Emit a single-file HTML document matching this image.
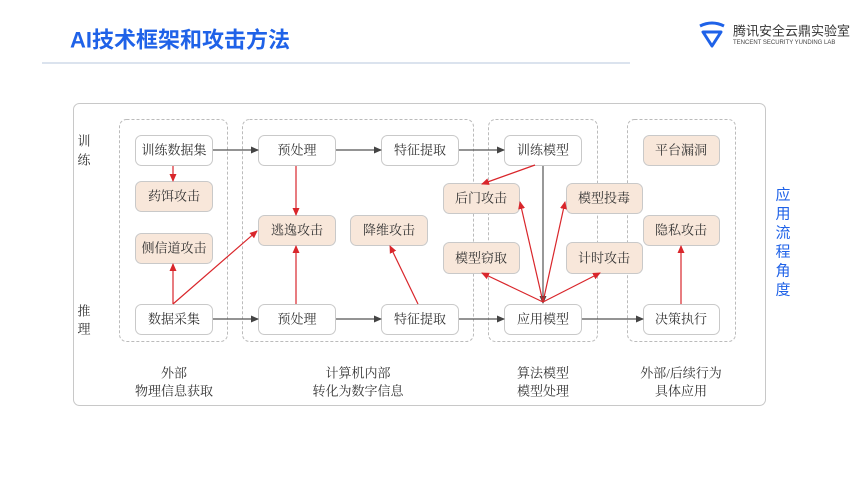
<!DOCTYPE html>
<html><head><meta charset="utf-8"><style>
html,body{margin:0;padding:0;background:#fff;}
svg{display:block;}
.t{font-family:"Liberation Serif","Noto Serif CJK SC",serif;font-size:13px;fill:#333;text-anchor:middle;dominant-baseline:central;}
</style></head><body>
<svg width="865" height="486" viewBox="0 0 865 486" xmlns="http://www.w3.org/2000/svg">
<defs>
<marker id="k" markerWidth="8" markerHeight="8" refX="7" refY="4" orient="auto" markerUnits="userSpaceOnUse"><path d="M0,0.5 L8,4 L0,7.5 z" fill="#444"/></marker>
<marker id="r" markerWidth="8" markerHeight="8" refX="7" refY="4" orient="auto" markerUnits="userSpaceOnUse"><path d="M0,0.5 L8,4 L0,7.5 z" fill="#d9262b"/></marker>
</defs>
<text x="70" y="40" style="font-family:'Liberation Sans','Noto Sans CJK SC',sans-serif;font-weight:bold;font-size:22px;fill:#1f62e8;dominant-baseline:central">AI技术框架和攻击方法</text>
<line x1="42" y1="63" x2="630" y2="63" stroke="#b7c7dc" stroke-width="1"/>
<!-- logo -->
<g transform="translate(698,22)">
<path d="M2,4 Q14,-2 26,4" stroke="#1f62e8" stroke-width="3" fill="none"/>
<path d="M5,10 L23,10 L14,24 Z" stroke="#1f62e8" stroke-width="3" fill="none" stroke-linejoin="round"/>
</g>
<text x="733" y="31" style="font-family:'Liberation Sans','Noto Sans CJK SC',sans-serif;font-size:13px;fill:#333;dominant-baseline:central">腾讯安全云鼎实验室</text>
<text x="733" y="43" style="font-family:'Liberation Sans',sans-serif;font-size:6px;fill:#444;dominant-baseline:central">TENCENT SECURITY YUNDING LAB</text>

<rect x="73.5" y="103.5" width="692" height="302" rx="6" fill="none" stroke="#c8c8c8"/>
<g fill="none" stroke="#bbb" stroke-dasharray="3,2">
<rect x="119.5" y="119.5" width="108" height="222" rx="7"/>
<rect x="242.5" y="119.5" width="231" height="222" rx="7"/>
<rect x="488.5" y="119.5" width="109" height="222" rx="7"/>
<rect x="627.5" y="119.5" width="108" height="222" rx="7"/>
</g>
<g class="t">
<text x="84" y="141">训</text><text x="84" y="160">练</text>
<text x="84" y="311">推</text><text x="84" y="329">理</text>
<text x="174" y="373">外部</text><text x="174" y="391">物理信息获取</text>
<text x="358" y="373">计算机内部</text><text x="358" y="391">转化为数字信息</text>
<text x="543" y="373">算法模型</text><text x="543" y="391">模型处理</text>
<text x="681" y="373">外部/后续行为</text><text x="681" y="391">具体应用</text>
</g>
<g style="font-family:'Liberation Sans','Noto Sans CJK SC',sans-serif;font-size:15px;fill:#1f62e8;text-anchor:middle;dominant-baseline:central">
<text x="783" y="195">应</text><text x="783" y="214">用</text><text x="783" y="233">流</text><text x="783" y="252">程</text><text x="783" y="271">角</text><text x="783" y="290">度</text>
</g>
<!-- boxes -->
<g stroke="#c9c9c9" stroke-width="1">
<rect x="135.5" y="135.5" width="77" height="30" rx="6" fill="#fff"/>
<rect x="135.5" y="181.5" width="77" height="30" rx="6" fill="#f8e7da"/>
<rect x="135.5" y="233.5" width="77" height="30" rx="6" fill="#f8e7da"/>
<rect x="135.5" y="304.5" width="77" height="30" rx="6" fill="#fff"/>
<rect x="258.5" y="135.5" width="77" height="30" rx="6" fill="#fff"/>
<rect x="258.5" y="215.5" width="77" height="30" rx="6" fill="#f8e7da"/>
<rect x="258.5" y="304.5" width="77" height="30" rx="6" fill="#fff"/>
<rect x="381.5" y="135.5" width="77" height="30" rx="6" fill="#fff"/>
<rect x="350.5" y="215.5" width="77" height="30" rx="6" fill="#f8e7da"/>
<rect x="381.5" y="304.5" width="77" height="30" rx="6" fill="#fff"/>
<rect x="504.5" y="135.5" width="77" height="30" rx="6" fill="#fff"/>
<rect x="443.5" y="183.5" width="76" height="30" rx="6" fill="#f8e7da"/>
<rect x="566.5" y="183.5" width="76" height="30" rx="6" fill="#f8e7da"/>
<rect x="443.5" y="242.5" width="76" height="31" rx="6" fill="#f8e7da"/>
<rect x="566.5" y="242.5" width="76" height="31" rx="6" fill="#f8e7da"/>
<rect x="504.5" y="304.5" width="77" height="30" rx="6" fill="#fff"/>
<rect x="643.5" y="135.5" width="76" height="30" rx="6" fill="#f8e7da"/>
<rect x="643.5" y="215.5" width="76" height="30" rx="6" fill="#f8e7da"/>
<rect x="643.5" y="304.5" width="76" height="30" rx="6" fill="#fff"/>
</g>
<g class="t">
<text x="174" y="150">训练数据集</text>
<text x="174" y="196">药饵攻击</text>
<text x="174" y="248">侧信道攻击</text>
<text x="174" y="319">数据采集</text>
<text x="297" y="150">预处理</text>
<text x="297" y="230">逃逸攻击</text>
<text x="297" y="319">预处理</text>
<text x="420" y="150">特征提取</text>
<text x="389" y="230">降维攻击</text>
<text x="420" y="319">特征提取</text>
<text x="543" y="150">训练模型</text>
<text x="481" y="198">后门攻击</text>
<text x="604" y="198">模型投毒</text>
<text x="481" y="258">模型窃取</text>
<text x="604" y="258">计时攻击</text>
<text x="543" y="319">应用模型</text>
<text x="681" y="150">平台漏洞</text>
<text x="681" y="230">隐私攻击</text>
<text x="681" y="319">决策执行</text>
</g>
<!-- black arrows -->
<g stroke="#555" stroke-width="1.2" marker-end="url(#k)">
<line x1="213" y1="150" x2="258" y2="150"/>
<line x1="336" y1="150" x2="381" y2="150"/>
<line x1="459" y1="150" x2="504" y2="150"/>
<line x1="213" y1="319" x2="258" y2="319"/>
<line x1="336" y1="319" x2="381" y2="319"/>
<line x1="459" y1="319" x2="504" y2="319"/>
<line x1="582" y1="319" x2="643" y2="319"/>
<line x1="543" y1="166" x2="543" y2="303"/>
</g>
<!-- red arrows -->
<g stroke="#d9262b" stroke-width="1.2" marker-end="url(#r)">
<line x1="173" y1="166" x2="173" y2="181"/>
<line x1="173" y1="304" x2="173" y2="264"/>
<line x1="173" y1="304" x2="257" y2="231"/>
<line x1="296" y1="166" x2="296" y2="215"/>
<line x1="296" y1="304" x2="296" y2="246"/>
<line x1="418" y1="304" x2="390" y2="246"/>
<line x1="535" y1="165" x2="482" y2="184"/>
<line x1="543" y1="302" x2="520" y2="202"/>
<line x1="543" y1="302" x2="565" y2="202"/>
<line x1="543" y1="302" x2="482" y2="273"/>
<line x1="543" y1="302" x2="600" y2="273"/>
<line x1="681" y1="304" x2="681" y2="246"/>
</g>
</svg>
</body></html>
